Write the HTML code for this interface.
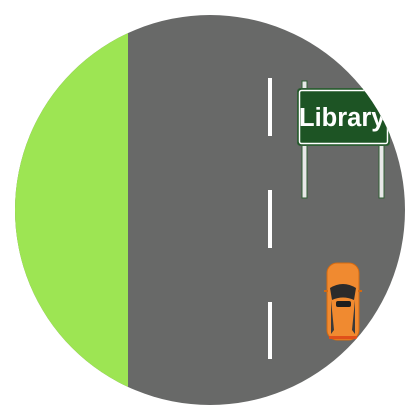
<!DOCTYPE html>
<html><head><meta charset="utf-8"><style>
html,body{margin:0;padding:0;background:#fff;width:420px;height:420px;overflow:hidden}
</style></head><body>
<svg width="420" height="420" viewBox="0 0 420 420">
<defs><clipPath id="c"><circle cx="210" cy="210" r="195"/></clipPath></defs>
<g clip-path="url(#c)">
<rect x="0" y="0" width="420" height="420" fill="#686968"/>
<rect x="0" y="0" width="128" height="420" fill="#9de553"/>
<g fill="#fff">
<rect x="268" y="78" width="4" height="58"/>
<rect x="268" y="190" width="4" height="58"/>
<rect x="268" y="302" width="4" height="57"/>
</g>
<g>
<rect x="302" y="81" width="5" height="117" fill="#e8e8e8" stroke="#2f5e35" stroke-width="1"/>
<rect x="379" y="81" width="5" height="117" fill="#e8e8e8" stroke="#2f5e35" stroke-width="1"/>
<rect x="297.5" y="88.5" width="92" height="57" rx="3" fill="#1d5424" stroke="#2f5e35" stroke-width="1"/>
<rect x="299.5" y="90.5" width="88" height="53" rx="2" fill="none" stroke="#fff" stroke-width="1.5"/>
<text x="299" y="126" font-family="Liberation Sans, sans-serif" font-weight="bold" font-size="25.5" fill="#fff">Library</text>
</g>
<g>
<rect x="327" y="263" width="32" height="77" rx="10" fill="#f08a30" stroke="#d56a10" stroke-width="1"/>
<path d="M330 288 Q343 280 356 288 L354 300 Q343 295 332 300 Z" fill="#2b2b2b"/>
<rect x="336" y="301" width="15" height="6" rx="2" fill="#1e1e1e"/>
<path d="M331 300 L334 330 L331 334 Z" fill="#3a3a3a"/>
<path d="M355 300 L352 330 L355 334 Z" fill="#3a3a3a"/>
<rect x="324" y="290" width="4" height="2" fill="#d56a10"/>
<rect x="358" y="290" width="4" height="2" fill="#d56a10"/>
<rect x="329" y="336" width="28" height="3" fill="#e0501a"/>
</g>
</g>
</svg>
</body></html>
